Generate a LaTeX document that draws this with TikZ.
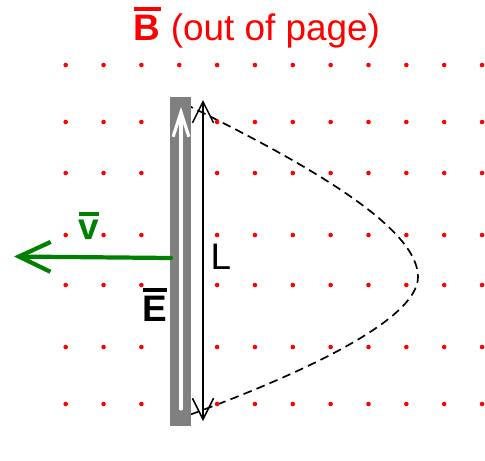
\documentclass[tikz,border=0pt]{standalone}
\usepackage{fontspec}
\setmainfont{Liberation Sans}
\usetikzlibrary{arrows.meta}

\definecolor{darkgreen}{RGB}{0,128,0}
\newcommand{\barred}[1]{\setbox0\hbox{#1}\rlap{\raisebox{\dimexpr\ht0+0.13em\relax}{\rule{\wd0}{0.09em}}}\box0}

\tikzset{
    label/.style={font=\fontsize{21}{25}\selectfont, inner sep=0pt},
    field dot/.style={fill=red},
}

\begin{document}
\begin{tikzpicture}[x=0.02cm, y=-0.02cm]
    \useasboundingbox (0,0) rectangle (485,461);
    % path of the charge
    \draw[line width=0.95pt, dash pattern=on 5pt off 3pt] (185,104) .. controls (320,170) and (418,230) .. (418,277)
        .. controls (418,320) and (300,375) .. (181,418);
    % field out of page
    \foreach \i in {0,...,11}
        \foreach \j in {65,122,173,235,285,347,404}
            \fill[field dot] (65.7+37.85*\i,\j) circle (1.3pt);
    % rod
    \fill[gray] (170.5,97) rectangle (191.5,426);
    \coordinate (ebot) at (181,409);
    \coordinate (etop) at (181,107);
    \draw[white, line width=1.8pt, line cap=round, -{Straight Barb[length=14pt,width=9pt]}] (ebot) -- (etop);
    \coordinate (lbot) at (203,421);
    \coordinate (ltop) at (203,100);
    \draw[line width=0.85pt, {Straight Barb[length=12pt,width=12pt]}-{Straight Barb[length=12pt,width=12pt]}] (lbot) -- (ltop);
    \coordinate (vstart) at (171,258);
    \coordinate (vend) at (14,256.5);
    \draw[darkgreen, line width=2.4pt, line cap=round, -{Straight Barb[length=18pt,width=17pt]}] (vstart) -- (vend);
    % labels
    \node[label, text=red] (title) at (257,28) {\bfseries\barred{B}\mdseries\ (out of page)};
    \node[label] (lname) at (221,257) {L};
    \node[label, text=darkgreen] (vname) at (89,226) {\bfseries\barred{v}};
    \node[label] (ename) at (155,305) {\bfseries\barred{E}};
\end{tikzpicture}
\end{document}
